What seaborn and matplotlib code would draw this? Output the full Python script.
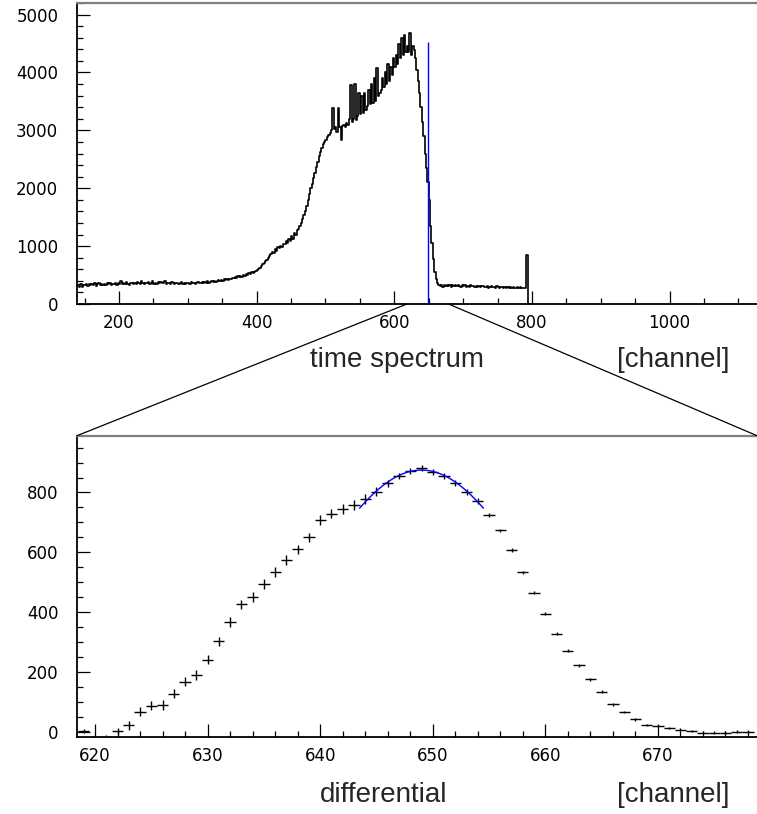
import numpy as np
import pandas as pd
import matplotlib
matplotlib.use("Agg")
import matplotlib.pyplot as plt
import seaborn as sns
from matplotlib.patches import ConnectionPatch
from matplotlib.ticker import MultipleLocator

# ---------------- data ----------------
# time spectrum: counts in 2-channel bins starting at channel 140
spec_first_edge = 140
spec_bin_width = 2
spec_counts = [
    330, 300, 345, 290, 335, 320, 350, 310, 340, 325,
    345, 330, 355, 315, 340, 360, 335, 350, 320, 345,
    330, 355, 340, 365, 325, 350, 345, 370, 335, 355,
    350, 390, 340, 360, 345, 375, 350, 335, 365, 355,
    340, 365, 350, 380, 355, 345, 395, 360, 350, 370,
    355, 375, 345, 360, 400, 350, 365, 340, 375, 360,
    380, 355, 365, 395, 345, 370, 360, 350, 385, 360,
    345, 370, 355, 340, 365, 375, 350, 360, 345, 370,
    360, 345, 375, 355, 365, 340, 370, 380, 355, 365,
    375, 360, 385, 370, 395, 365, 380, 400, 375, 390,
    385, 400, 410, 395, 415, 405, 425, 410, 430, 420,
    440, 430, 455, 445, 470, 455, 480, 465, 490, 475,
    500, 490, 515, 505, 530, 510, 545, 530, 560, 575,
    590, 610, 630, 660, 690, 710, 740, 760, 800, 830,
    860, 900, 880, 950, 920, 990, 960, 1010, 980, 1040,
    1030, 1090, 1060, 1130, 1080, 1170, 1120, 1220, 1190, 1270,
    1300, 1340, 1400, 1460, 1530, 1600, 1700, 1800, 1900, 2000,
    2080, 2180, 2270, 2360, 2450, 2560, 2630, 2700, 2760, 2800,
    2840, 2880, 2920, 2960, 3000, 3390, 3020, 3050, 2980, 3390,
    3060, 2830, 3080, 3100, 3050, 3120, 3100, 3200, 3780, 3150,
    3200, 3800, 3180, 3250, 3650, 3280, 3600, 3300, 3650, 3350,
    3420, 3700, 3450, 3800, 3480, 3900, 3500, 4080, 3600, 3650,
    3700, 3900, 3750, 4000, 3800, 4150, 3850, 4100, 3950, 4250,
    4100, 4300, 4150, 4500, 4250, 4600, 4300, 4650, 4350, 4450,
    4350, 4680, 4300, 4450, 4380, 4250, 4050, 3850, 3650, 3400,
    3150, 2900, 2600, 2350, 2100, 1800, 1350, 1050, 780, 550,
    430, 360, 330, 310, 320, 300, 325, 310, 330, 315,
    320, 300, 330, 310, 325, 305, 320, 315, 300, 325,
    310, 320, 300, 315, 295, 320, 305, 310, 290, 315,
    300, 310, 290, 305, 315, 295, 300, 310, 285, 300,
    305, 290, 300, 280, 310, 295, 285, 300, 290, 275,
    295, 285, 300, 280, 290, 270, 295, 285, 280, 290,
    275, 290, 270, 285, 280, 275, 850, 0, 0, 0,
]
cut_channel = 649.4      # blue marker line in the time spectrum
cut_height = 4520

# differential spectrum
diff_channels = list(range(619, 679))
diff_values = [
    2, -17, -17, 3, 22, 67, 87, 89, 127, 167,
    189, 241, 302, 366, 426, 450, 493, 534, 574, 610,
    650, 708, 729, 744, 758, 779, 803, 831, 855, 873,
    881, 867, 856, 833, 803, 772, 724, 673, 608, 533,
    464, 394, 328, 271, 222, 176, 134, 92, 65, 41,
    23, 18, 12, 7, 2, -3, -3, -3, 0, 0,
]
diff_errors = [
    6, 6, 6, 10, 15, 16, 16, 16, 16, 16,
    16, 16, 16, 16, 16, 16, 16, 16, 16, 16,
    16, 16, 16, 16, 16, 16, 16, 11, 10, 10,
    10, 10, 10, 10, 10, 10, 6, 6, 6, 6,
    5, 5, 5, 5, 5, 5, 5, 5, 4, 4,
    4, 4, 4, 4, 4, 4, 4, 4, 4, 4,
]
# gaussian fit of the peak
fit_amplitude = 875.0
fit_mean = 649.0
fit_sigma = 9.8
fit_range = (643.5, 654.5)

# ---------------- style ----------------
sns.set_style("ticks")
plt.rcParams["font.family"] = ["DejaVu Sans"]

W, H = 757, 814
fig = plt.figure(figsize=(W / 100, H / 100), dpi=100)

ax1 = fig.add_axes([77 / W, 1 - 304 / H, 1 - 77 / W, (304 - 3) / H])
ax2 = fig.add_axes([77 / W, 1 - 737.3 / H, 1 - 77 / W, (737.3 - 435.7) / H])

# top: time spectrum
spec_centers = spec_first_edge + spec_bin_width * (np.arange(len(spec_counts)) + 0.5)
df_spec = pd.DataFrame({"channel": spec_centers, "counts": spec_counts})
sns.lineplot(data=df_spec, x="channel", y="counts", ax=ax1, color="black",
             lw=1.2, drawstyle="steps-mid", estimator=None)
ax1.vlines(cut_channel, 0, cut_height, color="blue", lw=1.0)

ax1.set_xlim(139, 1127)
ax1.set_ylim(0, 5200)
ax1.xaxis.set_major_locator(MultipleLocator(200))
ax1.xaxis.set_minor_locator(MultipleLocator(50))
ax1.yaxis.set_major_locator(MultipleLocator(1000))
ax1.yaxis.set_minor_locator(MultipleLocator(200))

# bottom: differential
df_diff = pd.DataFrame({"channel": diff_channels, "value": diff_values, "err": diff_errors})
ax2.errorbar(df_diff["channel"], df_diff["value"], xerr=0.5, yerr=df_diff["err"],
             fmt="none", ecolor="black", elinewidth=1.0, capsize=0)
fx = np.linspace(fit_range[0], fit_range[1], 100)
fy = fit_amplitude * np.exp(-0.5 * ((fx - fit_mean) / fit_sigma) ** 2)
sns.lineplot(x=fx, y=fy, ax=ax2, color="blue", lw=1.0)

ax2.set_xlim(618.4, 678.8)
ax2.set_ylim(-19, 990)
ax2.xaxis.set_major_locator(MultipleLocator(10))
ax2.xaxis.set_minor_locator(MultipleLocator(2))
ax2.yaxis.set_major_locator(MultipleLocator(200))
ax2.yaxis.set_minor_locator(MultipleLocator(50))

for ax in (ax1, ax2):
    ax.set_xlabel("")
    ax.set_ylabel("")
    ax.spines["right"].set_visible(False)
    ax.spines["top"].set_color("#808080")
    ax.spines["top"].set_linewidth(1.6)
    ax.spines["left"].set_linewidth(1.3)
    ax.spines["bottom"].set_linewidth(1.3)
    ax.spines["left"].set_color("black")
    ax.spines["bottom"].set_color("black")
    ax.tick_params(which="both", direction="in", colors="black", width=0.9,
                   top=False, right=False, labelsize=12)
    ax.tick_params(which="major", length=9.5)
    ax.tick_params(which="minor", length=4.5)
    ax.tick_params(axis="y", which="major", pad=13.5)
    ax.tick_params(axis="x", which="major", pad=7)
    ax.patch.set_alpha(0)

# zoom connection lines
x0, x1 = ax2.get_xlim()
for xa, xb in ((x0, 0), (x1, 1)):
    con = ConnectionPatch(xyA=(xa, 0), coordsA=ax1.transData,
                          xyB=(xb, 1), coordsB=ax2.transAxes,
                          color="black", lw=0.9)
    fig.add_artist(con)

lab_kw = dict(ha="center", va="center", fontsize=20, family=["Liberation Sans", "DejaVu Sans"])
fig.text(397 / W, 1 - 360 / H, "time spectrum", **lab_kw)
fig.text(673.5 / W, 1 - 360 / H, "[channel]", **lab_kw)
fig.text(383.5 / W, 1 - 795 / H, "differential", **lab_kw)
fig.text(673.5 / W, 1 - 795 / H, "[channel]", **lab_kw)

fig.savefig("out.png", dpi=100)
